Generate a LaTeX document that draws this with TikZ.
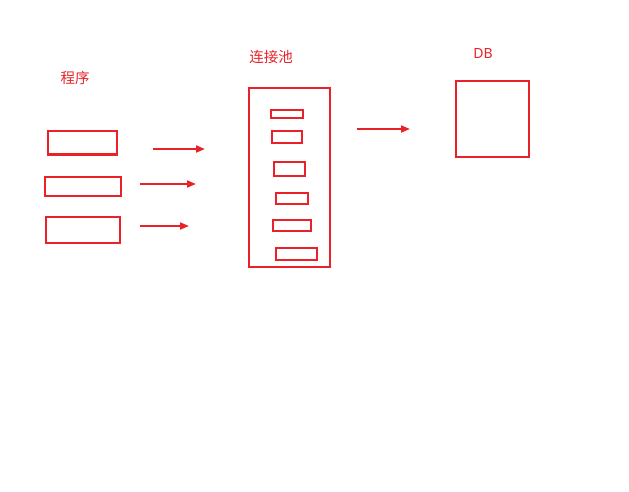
\documentclass[tikz,border=0pt]{standalone}
\usepackage{fontspec}
\newfontfamily\cjk{Noto Sans CJK SC}
\usetikzlibrary{arrows.meta}
\definecolor{penred}{RGB}{232,34,40}
\tikzset{
    box/.style={draw=penred, line width=2pt, inner sep=0pt},
    caption/.style={text=penred, font=\cjk\fontsize{14.5}{16}\selectfont, inner sep=0pt},
    flow/.style={draw=penred, line width=2pt, -{Triangle[length=9pt,width=7pt]}}
}
\begin{document}
\begin{tikzpicture}[x=1pt, y=-1pt]
    \useasboundingbox (0,0) rectangle (629,492);

    % Programs
    \node[caption] (prog) at (75,78) {程序};
    \node[box, minimum width=69pt, minimum height=23pt] (p1) at (82,143) {};
    \node[box, minimum width=76pt, minimum height=19pt] (p2) at (82.5,186) {};
    \node[box, minimum width=74pt, minimum height=26pt] (p3) at (82.5,229.5) {};

    % Arrows into the pool
    \coordinate (a1s) at (153,149); \coordinate (a1e) at (205,149);
    \coordinate (a2s) at (140,184); \coordinate (a2e) at (196,184);
    \coordinate (a3s) at (140,226); \coordinate (a3e) at (189,226);
    \draw[flow] (a1s) -- (a1e);
    \draw[flow] (a2s) -- (a2e);
    \draw[flow] (a3s) -- (a3e);

    % Connection pool
    \node[caption] (pooltxt) at (271,57) {连接池};
    \node[box, minimum width=81pt, minimum height=178pt] (pool) at (289,177.5) {};
    \node[box, minimum width=32pt, minimum height=8pt]  (c1) at (286.5,114.5) {};
    \node[box, minimum width=30pt, minimum height=12pt] (c2) at (286.5,137.5) {};
    \node[box, minimum width=31pt, minimum height=14pt] (c3) at (289,168.5) {};
    \node[box, minimum width=32pt, minimum height=11pt] (c4) at (291.5,198) {};
    \node[box, minimum width=38pt, minimum height=11pt] (c5) at (291.5,225) {};
    \node[box, minimum width=41pt, minimum height=12pt] (c6) at (296,253.5) {};

    % Arrow to the database
    \coordinate (a4s) at (357,129); \coordinate (a4e) at (410,129);
    \draw[flow] (a4s) -- (a4e);

    % Database
    \node[caption, font=\fontspec{Noto Sans}\fontsize{14}{16}\selectfont] (dbtxt) at (483,54) {DB};
    \node[box, minimum width=73pt, minimum height=75pt] (db) at (492,119) {};
\end{tikzpicture}
\end{document}
